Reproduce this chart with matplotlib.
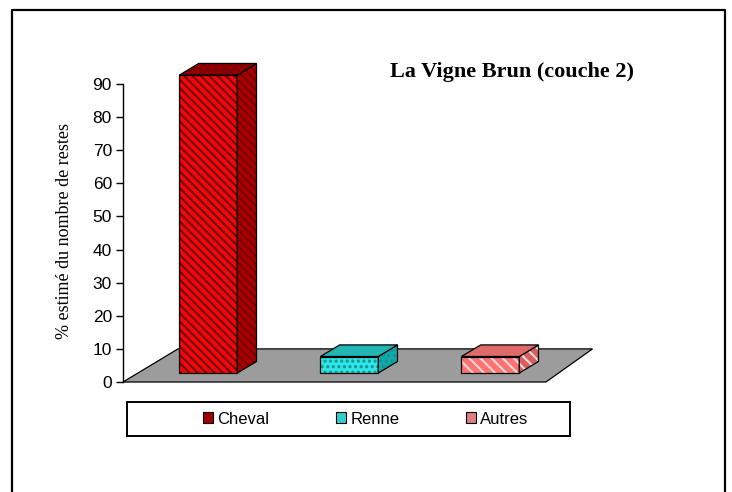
import matplotlib
matplotlib.use('Agg')
import matplotlib.pyplot as plt
from matplotlib.patches import Polygon, Patch
from matplotlib.lines import Line2D

# data
categories = ['Cheval', 'Renne', 'Autres']
values = [90, 5, 5]
title = 'La Vigne Brun (couche 2)'
ylabel = '% estimé du nombre de restes'
yticks = [0, 10, 20, 30, 40, 50, 60, 70, 80, 90]

# face colours: front, side, top, hatch, hatch colour
styles = [
    ('#ee0a0a', '#a80000', '#8a0000', '\\\\\\\\', '#7a0000'),
    ('#2fe6e6', '#10a8a8', '#22b5b5', '...', '#139494'),
    ('#ff7272', '#d85e5e', '#e06a6a', '\\\\\\', '#ffd8d8'),
]

plt.rcParams['hatch.linewidth'] = 1.5

fig = plt.figure(figsize=(7.32, 4.92), dpi=100)
ax = fig.add_axes([123 / 732, 110 / 492, 423 / 732, 298 / 492])
ax.set_xlim(-0.5, 2.5)
ax.set_ylim(0, 90)

# depth of the floor in data units (x, y)
DX, DY = 0.39, 10.0
f_front, f_depth = 0.27, 0.35
bar_w = 0.41


def poly(pts, fc, hatch=None, hc=None, z=2):
    ax.add_patch(Polygon(pts, closed=True, facecolor=fc, edgecolor='none',
                         clip_on=False, zorder=z))
    if hatch:
        ax.add_patch(Polygon(pts, closed=True, fill=False, hatch=hatch,
                             edgecolor=hc, linewidth=0, clip_on=False, zorder=z))
    ax.add_patch(Polygon(pts, closed=True, fill=False, edgecolor='black',
                         linewidth=0.9, clip_on=False, zorder=z))


# floor (slight perspective on the right)
x0, x1 = -0.5, 2.5
poly([(x0, 0), (x1, 0), (x1 + DX - 0.06, DY), (x0 + DX, DY)], '#9c9c9c', z=1)

# bars as boxes
for i, (v, st) in enumerate(zip(values, styles)):
    front, side, top, hatch, hc = st
    fx, fy = i + f_front * DX, f_front * DY
    dx, dy = f_depth * DX, f_depth * DY
    l, r = fx - bar_w / 2, fx + bar_w / 2
    b, t = fy, fy + v
    poly([(l, b), (r, b), (r, t), (l, t)], front, hatch, hc, z=3)
    poly([(r, b), (r + dx, b + dy), (r + dx, t + dy), (r, t)], side, hatch, hc, z=3)
    poly([(l, t), (r, t), (r + dx, t + dy), (l + dx, t + dy)], top, None, None, z=3)

# axis
for s in ['top', 'right', 'bottom']:
    ax.spines[s].set_visible(False)
ax.spines['left'].set_linewidth(1.0)
ax.set_xticks([])
ax.set_yticks(yticks)
ax.tick_params(axis='y', direction='out', length=5, width=1, labelsize=12.5, pad=3)
for lab in ax.get_yticklabels():
    lab.set_fontfamily('Liberation Sans')
ax.set_facecolor('none')
ax.set_ylabel(ylabel, fontfamily='Liberation Serif', fontsize=13)
ax.yaxis.set_label_coords(-0.118, 0.507)

fig.text(390 / 732, 1 - 72 / 492, title, fontfamily='Liberation Serif',
         fontweight='bold', fontsize=16, va='center', ha='left')

# legend box
fig.add_artist(plt.Rectangle((127 / 732, 1 - 436 / 492), 443 / 732, 34 / 492,
                             transform=fig.transFigure, fill=False,
                             edgecolor='black', linewidth=1.4))
handles = [Patch(facecolor='#a00000', edgecolor='black', linewidth=0.8),
           Patch(facecolor='#2fd0d0', edgecolor='black', linewidth=0.8),
           Patch(facecolor='#e08080', edgecolor='black', linewidth=0.8)]
fig.legend(handles, categories, loc='center', bbox_to_anchor=(366 / 732, 1 - 419 / 492),
           ncol=3, frameon=False, handlelength=0.6, handleheight=0.6,
           handletextpad=0.25, columnspacing=4.0,
           prop={'family': 'Liberation Sans', 'size': 12})

# outer frame
fig.add_artist(Line2D([12 / 732, 12 / 732, 725 / 732, 725 / 732],
                      [-0.01, 1 - 10 / 492, 1 - 10 / 492, -0.01],
                      transform=fig.transFigure, color='black', linewidth=1.6))

fig.savefig('out.png', dpi=100)
